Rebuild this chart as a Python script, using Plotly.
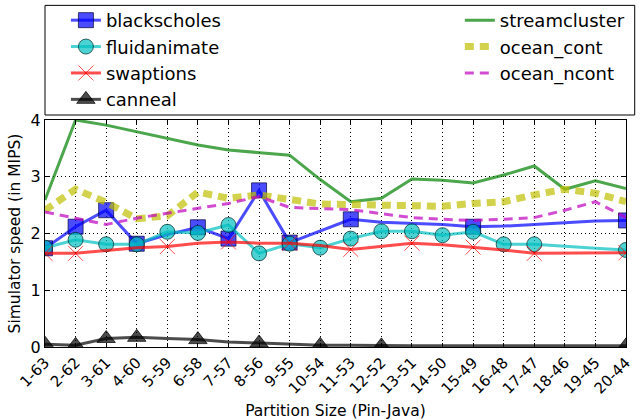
import plotly.graph_objects as go

# partition sizes (Pin-Java)
partitions = ["1-63", "2-62", "3-61", "4-60", "5-59", "6-58", "7-57", "8-56", "9-55", "10-54",
              "11-53", "12-52", "13-51", "14-50", "15-49", "16-48", "17-47", "18-46", "19-45", "20-44"]

# simulator speed in MIPS
blackscholes = [1.74, 2.12, 2.41, 1.82, 1.98, 2.11, 1.91, 2.76, 1.84, 2.04,
                2.25, 2.20, 2.18, 2.16, 2.12, 2.13, 2.16, 2.19, 2.22, 2.23]
fluidanimate = [1.75, 1.89, 1.81, 1.81, 2.03, 2.01, 2.15, 1.65, 1.82, 1.75,
                1.91, 2.04, 2.04, 1.97, 2.03, 1.81, 1.81, 1.77, 1.74, 1.71]
swaptions = [1.65, 1.65, 1.70, 1.75, 1.77, 1.83, 1.85, 1.83, 1.83, 1.79,
             1.72, 1.78, 1.83, 1.80, 1.76, 1.71, 1.65, 1.65, 1.65, 1.66]
canneal = [0.05, 0.03, 0.15, 0.17, 0.15, 0.13, 0.09, 0.07, 0.05, 0.03,
           0.03, 0.02, 0.02, 0.02, 0.02, 0.02, 0.02, 0.02, 0.02, 0.02]
streamcluster = [2.59, 4.00, 3.91, 3.79, 3.67, 3.56, 3.47, 3.42, 3.38, 2.95,
                 2.56, 2.62, 2.96, 2.94, 2.89, 3.03, 3.19, 2.78, 2.93, 2.79]
ocean_cont = [2.41, 2.78, 2.55, 2.26, 2.31, 2.73, 2.62, 2.68, 2.60, 2.52,
              2.51, 2.51, 2.50, 2.48, 2.53, 2.56, 2.68, 2.78, 2.71, 2.56]
ocean_ncont = [2.38, 2.27, 2.16, 2.27, 2.36, 2.45, 2.53, 2.65, 2.46, 2.44,
               2.42, 2.35, 2.28, 2.25, 2.23, 2.25, 2.28, 2.41, 2.56, 2.28]

# points that carry a marker
blackscholes_marks = [0, 1, 2, 3, 5, 6, 7, 8, 10, 14, 19]
fluidanimate_marks = [0, 1, 2, 3, 4, 5, 6, 7, 8, 9, 10, 11, 12, 13, 14, 15, 16, 19]
swaptions_marks = [0, 1, 4, 6, 8, 10, 12, 14, 16, 19]
canneal_marks = [0, 1, 2, 3, 5, 7, 9, 11, 19]

FONT = "DejaVu Sans"

series = [
    dict(name="blackscholes", y=blackscholes, marks=blackscholes_marks, color="rgba(0,0,255,0.7)",
         symbol="square", size=15, edge="rgba(0,0,60,0.7)"),
    dict(name="fluidanimate", y=fluidanimate, marks=fluidanimate_marks, color="rgba(0,191,191,0.7)",
         symbol="circle", size=15, edge="rgba(0,40,40,0.7)"),
    dict(name="swaptions", y=swaptions, marks=swaptions_marks, color="rgba(255,0,0,0.7)",
         symbol="x-thin", size=15, edge="rgba(255,0,0,0.7)"),
    dict(name="canneal", y=canneal, marks=canneal_marks, color="rgba(0,0,0,0.7)",
         symbol="triangle-up", size=16, edge="rgba(0,0,0,0.7)"),
]

fig = go.Figure()
x = list(range(len(partitions)))

for s in series:
    opac = [1 if i in s["marks"] else 0 for i in x]
    marker = dict(symbol=s["symbol"], size=s["size"], color=s["color"],
                  line=dict(color=s["edge"], width=1))
    fig.add_trace(go.Scatter(
        x=x, y=s["y"], mode="lines+markers", showlegend=False,
        line=dict(color=s["color"], width=3),
        marker=dict(marker, opacity=opac),
    ))
    # legend entry only
    fig.add_trace(go.Scatter(
        x=[None], y=[None], mode="lines+markers", name=s["name"],
        legend="legend", legendgroup=s["name"],
        line=dict(color=s["color"], width=3), marker=marker,
    ))

plain = [
    dict(name="streamcluster", y=streamcluster, color="rgba(0,128,0,0.7)", width=3, dash="solid"),
    dict(name="ocean_cont", y=ocean_cont, color="rgba(191,191,0,0.7)", width=7, dash="9px,6px"),
    dict(name="ocean_ncont", y=ocean_ncont, color="rgba(191,0,191,0.7)", width=3, dash="9px,6px"),
]
for s in plain:
    fig.add_trace(go.Scatter(
        x=x, y=s["y"], mode="lines", name=s["name"],
        legend="legend2", legendgroup=s["name"],
        line=dict(color=s["color"], width=s["width"], dash=s["dash"]),
    ))

axis_common = dict(
    showline=True, linecolor="black", linewidth=1, mirror="allticks",
    ticks="inside", ticklen=4, tickcolor="black",
    showgrid=True, gridcolor="black", gridwidth=1, griddash="1px,3px",
    zeroline=False, automargin=False,
)

fig.update_xaxes(
    axis_common, range=[0, 19], tickmode="array", tickvals=x, ticktext=partitions,
    tickangle=-45, tickfont=dict(family=FONT, size=15, color="black"),
    title=dict(text="Partition Size (Pin-Java)", font=dict(family=FONT, size=15.5, color="black")),
)
fig.update_yaxes(
    axis_common, range=[0, 4], tickvals=[0, 1, 2, 3, 4],
    tickfont=dict(family=FONT, size=16, color="black"),
    title=dict(text="Simulator speed (in MIPS)", font=dict(family=FONT, size=15.5, color="black"),
               standoff=6),
)

legend_style = dict(
    font=dict(family=FONT, size=18, color="black"), bgcolor="rgba(0,0,0,0)",
    yanchor="top", y=1.52, xanchor="left", tracegroupgap=0, traceorder="grouped",
)

fig.update_layout(
    width=642, height=420,
    margin=dict(l=45, r=16, t=120, b=73, autoexpand=False),
    paper_bgcolor="white", plot_bgcolor="white",
    font=dict(family=FONT, color="black"),
    legend=dict(legend_style, x=0.036),
    legend2=dict(legend_style, x=0.714),
    shapes=[dict(type="rect", xref="paper", yref="paper", x0=0, x1=1.015, y0=1.022, y1=1.505,
                 line=dict(color="black", width=1), fillcolor="rgba(0,0,0,0)")],
)

fig.write_html("out.html", config={"displayModeBar": False},
               post_script="document.body.style.margin='0px';")
